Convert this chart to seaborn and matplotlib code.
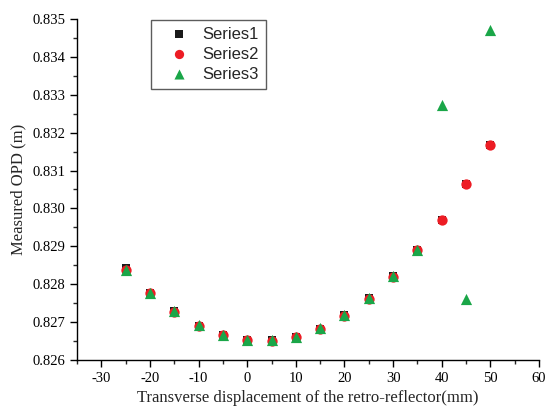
import numpy as np
import pandas as pd
import matplotlib
matplotlib.use("Agg")
import matplotlib.pyplot as plt
import seaborn as sns
from matplotlib.ticker import MultipleLocator

x1 = [-25, -20, -15, -10, -5, 0, 5, 10, 15, 20, 25, 30, 35, 40, 45, 50]
s1 = [0.82842, 0.82778, 0.82728, 0.82691, 0.82666, 0.82653, 0.82652, 0.82661,
      0.82683, 0.82718, 0.82763, 0.82821, 0.82890, 0.82969, 0.83064, 0.83167]
x2 = [-25, -20, -15, -10, -5, 0, 5, 10, 15, 20, 25, 30, 35, 40, 45, 50]
s2 = [0.82838, 0.82776, 0.82727, 0.82690, 0.82665, 0.82652, 0.82651, 0.82660,
      0.82682, 0.82717, 0.82762, 0.82820, 0.82889, 0.82969, 0.83064, 0.83167]
x3 = [-25, -20, -15, -10, -5, 0, 5, 10, 15, 20, 25, 30, 35, 40, 45, 50]
s3 = [0.82838, 0.82778, 0.82728, 0.82692, 0.82667, 0.82654, 0.82653, 0.82662,
      0.82684, 0.82719, 0.82764, 0.82822, 0.82891, 0.83273, 0.82762, 0.83471]
series_names = ["Series1", "Series2", "Series3"]
x_ticks = [-30, -20, -10, 0, 10, 20, 30, 40, 50, 60]
y_ticks = [0.826, 0.827, 0.828, 0.829, 0.830, 0.831, 0.832, 0.833, 0.834, 0.835]

df = pd.concat([
    pd.DataFrame({"x": x1, "y": s1, "series": series_names[0]}),
    pd.DataFrame({"x": x2, "y": s2, "series": series_names[1]}),
    pd.DataFrame({"x": x3, "y": s3, "series": series_names[2]}),
], ignore_index=True)

sns.set_style("ticks")
plt.rcParams["font.family"] = ["Liberation Serif", "DejaVu Serif"]
plt.rcParams["axes.unicode_minus"] = False

fig = plt.figure(figsize=(5.47, 4.11), dpi=100)
ax = fig.add_axes([0.1408, 0.1241, 0.8446, 0.8297])

palette = {"Series1": "#1a1a1a", "Series2": "#ed1c24", "Series3": "#1aa648"}
markers = {"Series1": "s", "Series2": "o", "Series3": "^"}
sizes_map = {"Series1": 40, "Series2": 55, "Series3": 65}
for name in series_names:
    sub = df[df["series"] == name]
    sns.scatterplot(data=sub, x="x", y="y", color=palette[name],
                    marker=markers[name], s=sizes_map[name], linewidth=0,
                    ax=ax, label=name, zorder=3)

ax.set_xlim(-35, 60)
ax.set_ylim(0.826, 0.835)
ax.set_xticks(x_ticks)
ax.set_yticks(y_ticks)
ax.set_yticklabels([f"{v:.3f}" for v in y_ticks])
ax.xaxis.set_minor_locator(MultipleLocator(5))
ax.yaxis.set_minor_locator(MultipleLocator(0.0005))
ax.tick_params(which="major", direction="out", length=5, width=1, labelsize=10.5, colors="black")
ax.tick_params(which="minor", direction="out", length=3, width=1)
for side in ["top", "right"]:
    ax.spines[side].set_visible(False)
for side in ["left", "bottom"]:
    ax.spines[side].set_linewidth(1)
    ax.spines[side].set_color("black")

ax.set_xlabel("Transverse displacement of the retro-reflector(mm)", fontsize=12, labelpad=4)
ax.set_ylabel("Measured OPD (m)", fontsize=12, labelpad=4)

leg = ax.legend(loc="upper left", bbox_to_anchor=(0.160, 0.998), borderaxespad=0,
                frameon=True, fancybox=False,
                edgecolor="#333333", prop={"family": "Liberation Sans", "size": 12},
                handlelength=2.5, handletextpad=0.15, borderpad=0.43,
                labelspacing=0.3, markerscale=0.9)
leg.get_frame().set_linewidth(1)

fig.savefig("out.png", dpi=100)
